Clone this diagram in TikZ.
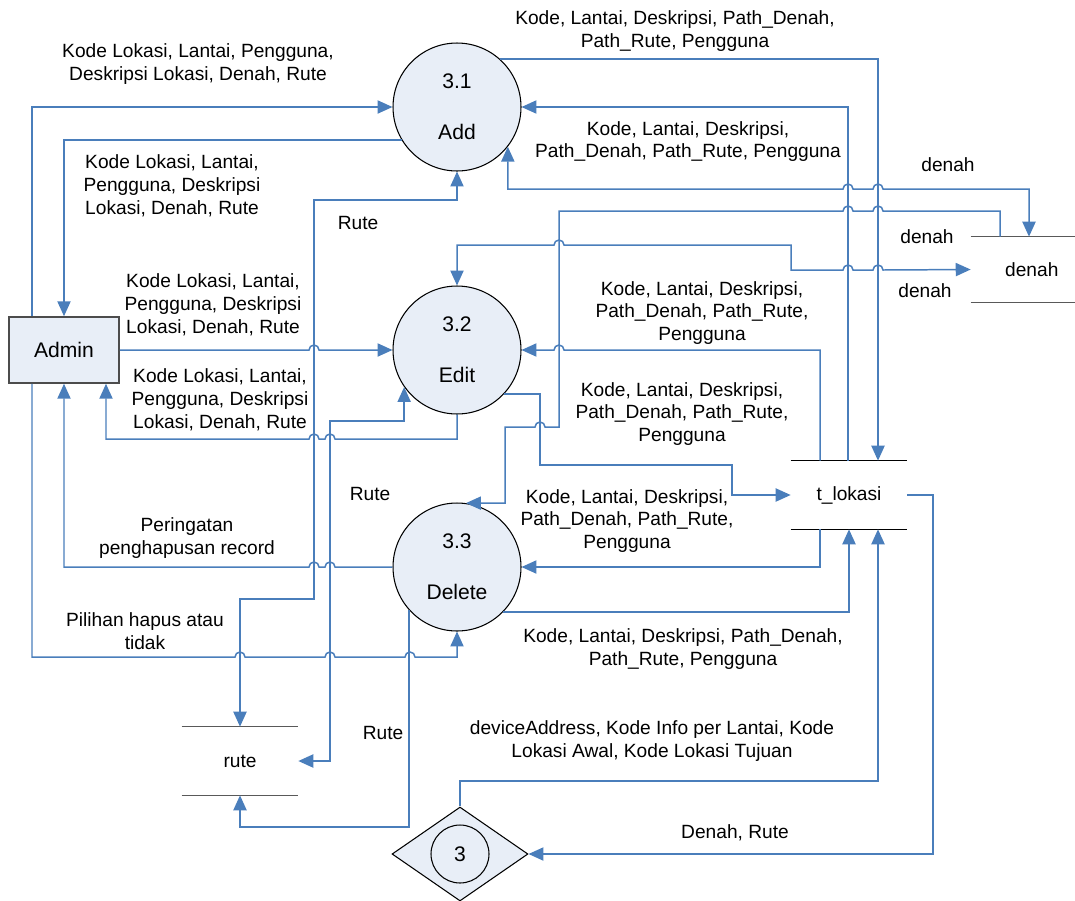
\documentclass[tikz,border=0pt]{standalone}
\usepackage{fontspec}
\setmainfont{Liberation Sans}
\usetikzlibrary{arrows.meta,shapes.geometric}
\definecolor{flowblue}{RGB}{74,126,187}
\definecolor{procfill}{RGB}{232,238,247}
\newcommand{\lblsize}{\fontsize{10.9}{13}\selectfont}
\newcommand{\bigsize}{\fontsize{12}{14}\selectfont}
% line hops over a vertical line at x=#1, y=#2
\newcommand{\hopr}[2]{-- (#1-5,#2) arc[start angle=180,end angle=360,radius=5]}
\newcommand{\hopl}[2]{-- (#1+5,#2) arc[start angle=0,end angle=-180,radius=5]}
\begin{document}
\begin{tikzpicture}[x=0.02cm,y=-0.02cm,
    >={Triangle[length=8.5pt,width=7.5pt]},
    flow/.style={draw=flowblue,line width=0.85pt},
    proc/.style={circle,draw=black,fill=procfill,line width=0.6pt,minimum size=2.56cm,inner sep=0pt,align=center,font=\bigsize},
    ent/.style={rectangle,draw=black!70,fill=procfill,line width=0.9pt,minimum width=2.2cm,minimum height=1.32cm,font=\bigsize},
    store/.style={rectangle,minimum width=2.32cm,minimum height=1.36cm,inner sep=0pt,font=\lblsize},
    lbl/.style={align=center,inner sep=0pt,font=\lblsize}]
    \useasboundingbox (0,0) rectangle (1075,900);

    % Processes
    \node[proc] (add) at (457,107) {3.1\\[14.9pt]Add};
    \node[proc] (edit) at (457,350) {3.2\\[14.9pt]Edit};
    \node[proc] (del) at (457,567) {3.3\\[14.9pt]Delete};

    % External entity
    \node[ent] (admin) at (64,350) {Admin};

    % Data stores
    \node[store] (tlok) at (849,495) {t\_lokasi};
    \node[store,minimum width=2.08cm,minimum height=1.3cm] (denah) at (1023,269.5) {\hspace{10pt}denah};
    \node[store] (rute) at (240,761) {rute};
    \draw[line width=0.6pt] (tlok.north west) -- (tlok.north east) (tlok.south west) -- (tlok.south east);
    \draw[line width=0.6pt,black!65] (denah.north west) -- (denah.north east) (denah.south west) -- (denah.south east);
    \draw[line width=0.6pt,black!65] (rute.north west) -- (rute.north east) (rute.south west) -- (rute.south east);

    % Process 3
    \node[diamond,aspect=1.45,draw=black,fill=procfill,line width=0.6pt,minimum width=2.72cm,minimum height=1.88cm,inner sep=0pt] (ctx) at (460,854) {};
    \node[circle,draw=black,line width=0.6pt,minimum size=1.16cm,inner sep=0pt,font=\bigsize] (ctxnum) at (ctx.center) {3};

    % Admin <-> processes
    \draw[flow,->] (admin.north -| 32,0) |- (add.west);
    \draw[flow,->] (add.211) -| (admin.north);
    \draw[flow,->] (admin.east) \hopr{314}{350} -- (edit.west);
    \draw[flow,->] (edit.south) -- (457,439) \hopl{330}{439} \hopl{314}{439} -| (admin.south -| 106,0);
    \draw[flow,->] (del.west) \hopl{330}{567} \hopl{314}{567} -| (admin.south);
    \draw[flow,->] (admin.south -| 32,0) -- (32,657) \hopr{240}{657} \hopr{330}{657} \hopr{410}{657} -| (del.south);

    % rute store
    \draw[flow,<->] (rute.north) -- (240,599) -- (314,599) -- (314,200) -- (457,200) -- (add.south);
    \draw[flow,<->] (rute.east) -- (330,761) -- (330,421) -- (edit.215.4 |- 0,421) -- (edit.215.4);
    \draw[flow,->] (del.222.7) -- (del.222.7 |- 0,827) -- (240,827) -- (rute.south);

    % t_lokasi store
    \draw[flow,->] (add.48.6) -| (tlok.north -| 878,0);
    \draw[flow,->] (tlok.north -| 848,0) |- (add.east);
    \draw[flow,->] (tlok.north -| 820,0) -- (820,350) \hopl{559}{350} -- (edit.east);
    \draw[flow,->] (edit.-43.4) -| (540,465) -- (732,465) |- (tlok.west);
    \draw[flow,->] (tlok.south -| 820,0) |- (del.east);
    \draw[flow,->] (del.-44.6) -| (tlok.south);
    \draw[flow,->] (ctx.north) -- (460,781) -| (tlok.south -| 878,0);
    \draw[flow,->] (tlok.east) -- (933,495) |- (ctx.east);

    % denah store
    \draw[flow,<->] (add.-38.6) -- (add.-38.6 |- 0,189) \hopr{848}{189} \hopr{878}{189} -| (denah.north -| 1029,0);
    \draw[flow,<->] (edit.north) -- (457,245) \hopr{559}{245} -- (791,245) -- (791,270) \hopr{848}{270} \hopr{878}{270} -- (denah.west);
    \draw[flow,->] (denah.north -| 1000,0) -- (1000,211) \hopl{878}{211} \hopl{848}{211} -- (559,211) -- (559,427) \hopl{540}{427} -- (505,427) -- (del.82 -| 505,0) -- (del.82);

    % Labels
    \node[lbl] (l1) at (198,64) {Kode Lokasi, Lantai, Pengguna,\\Deskripsi Lokasi, Denah, Rute};
    \node[lbl] (l2) at (675,31) {Kode, Lantai, Deskripsi, Path\_Denah,\\Path\_Rute, Pengguna};
    \node[lbl] (l3) at (688,141.5) {Kode, Lantai, Deskripsi,\\Path\_Denah, Path\_Rute, Pengguna};
    \node[lbl] (l4) at (948,165) {denah};
    \node[lbl] (l5) at (172,186) {Kode Lokasi, Lantai,\\Pengguna, Deskripsi\\Lokasi, Denah, Rute};
    \node[lbl] (l6) at (358,223) {Rute};
    \node[lbl] (l7) at (927,237) {denah};
    \node[lbl] (l8) at (213,305) {Kode Lokasi, Lantai,\\Pengguna, Deskripsi\\Lokasi, Denah, Rute};
    \node[lbl] (l9) at (702,313) {Kode, Lantai, Deskripsi,\\Path\_Denah, Path\_Rute,\\Pengguna};
    \node[lbl] (l10) at (925,291) {denah};
    \node[lbl] (l11) at (220,400) {Kode Lokasi, Lantai,\\Pengguna, Deskripsi\\Lokasi, Denah, Rute};
    \node[lbl] (l12) at (682,414) {Kode, Lantai, Deskripsi,\\Path\_Denah, Path\_Rute,\\Pengguna};
    \node[lbl] (l13) at (370,494) {Rute};
    \node[lbl] (l14) at (627,521) {Kode, Lantai, Deskripsi,\\Path\_Denah, Path\_Rute,\\Pengguna};
    \node[lbl] (l15) at (187,538) {Peringatan\\penghapusan record};
    \node[lbl] (l16) at (145,631) {Pilihan hapus atau\\tidak};
    \node[lbl] (l17) at (683,649) {Kode, Lantai, Deskripsi, Path\_Denah,\\Path\_Rute, Pengguna};
    \node[lbl] (l18) at (383,733) {Rute};
    \node[lbl] (l19) at (652,741) {deviceAddress, Kode Info per Lantai, Kode\\Lokasi Awal, Kode Lokasi Tujuan};
    \node[lbl] (l20) at (735,833) {Denah, Rute};
\end{tikzpicture}
\end{document}
